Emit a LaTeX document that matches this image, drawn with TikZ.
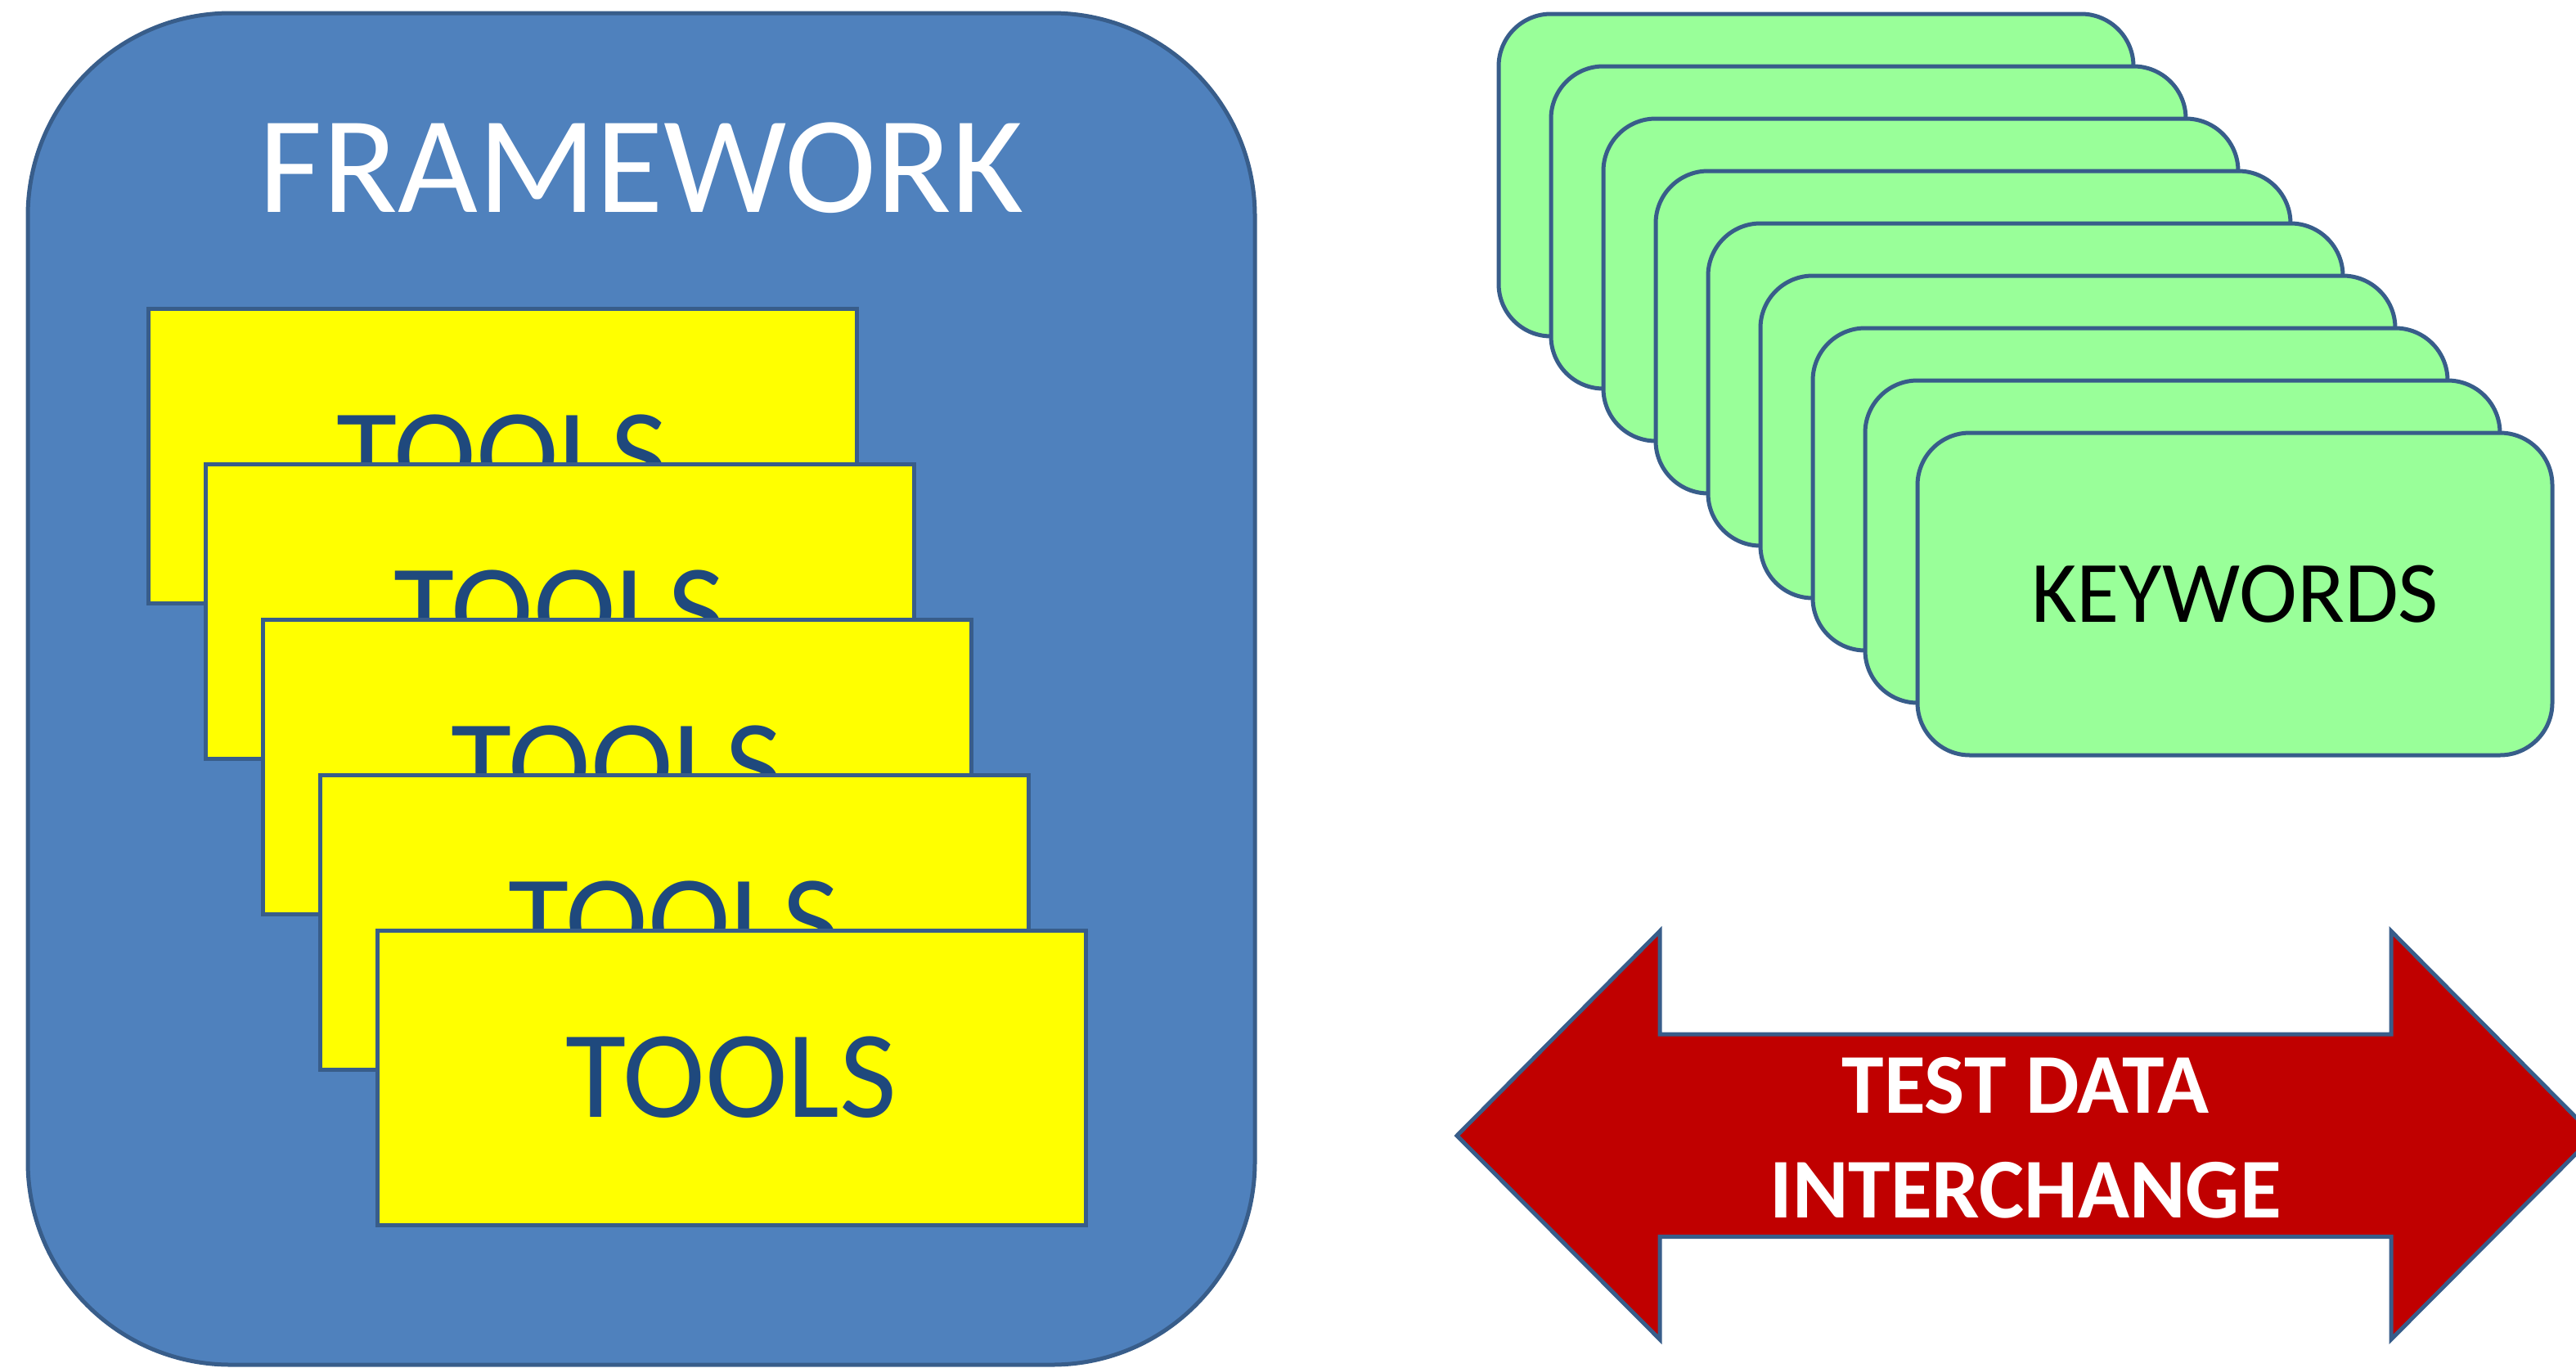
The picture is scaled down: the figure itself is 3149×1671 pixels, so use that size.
\documentclass[tikz,border=0pt]{standalone}
\usepackage{fontspec}
\setmainfont{Carlito}
\definecolor{fwblue}{HTML}{4F81BD}
\definecolor{edgeblue}{HTML}{385D8A}
\definecolor{toolyellow}{HTML}{FFFF00}
\definecolor{toolblue}{HTML}{1F497D}
\definecolor{cardgreen}{HTML}{99FF99}
\definecolor{arrowred}{HTML}{C00000}
\begin{document}
\begin{tikzpicture}[x=1pt,y=-1pt,
  frame/.style={draw=edgeblue, line width=5pt, fill=fwblue, rounded corners=248pt,
    minimum width=1500pt, minimum height=1652pt, inner sep=0pt},
  frametext/.style={text=white, inner sep=0pt, font=\fontsize{169}{169}\selectfont},
  toolbox/.style={draw=edgeblue, line width=5pt, fill=toolyellow, minimum width=866pt,
    minimum height=360pt, inner sep=0pt, text=toolblue, font=\fontsize{152}{152}\selectfont},
  card/.style={draw=edgeblue, line width=5pt, fill=cardgreen, rounded corners=64pt,
    minimum width=776pt, minimum height=394pt, inner sep=0pt, text=black,
    font=\fontsize{107}{107}\selectfont},
  bigarrow/.style={draw=edgeblue, line width=5pt, fill=arrowred, line join=miter},
  arrowtext/.style={text=white, align=center, inner sep=0pt,
    font=\bfseries\fontsize{104}{128}\selectfont}
]
\useasboundingbox (0,0) rectangle (3149,1671);
% framework
\node[frame] (fw) at (784,842) {};
\node[frametext] (fwlabel) at (784,205) {FRAMEWORK};
% tools
\foreach \i in {0,...,4}{
  \node[toolbox] (tool\i) at ({614+70*\i},{557+190*\i}) {TOOLS};
}
% keyword cards
\foreach \i in {0,...,7}{
  \node[card] (kw\i) at ({2220+64*\i},{214+64*\i}) {};
}
\node[card] (kw8) at (2732,726) {KEYWORDS};
% double arrow
\draw[bigarrow] (1781,1388) -- (2029,1138) -- (2029,1264) -- (2923,1264) -- (2923,1138)
  -- (3171,1388) -- (2923,1637) -- (2923,1511.5) -- (2029,1511.5) -- (2029,1637) -- cycle;
\node[arrowtext] (tdi) at (2476,1391) {TEST DATA\\INTERCHANGE};
\end{tikzpicture}
\end{document}
